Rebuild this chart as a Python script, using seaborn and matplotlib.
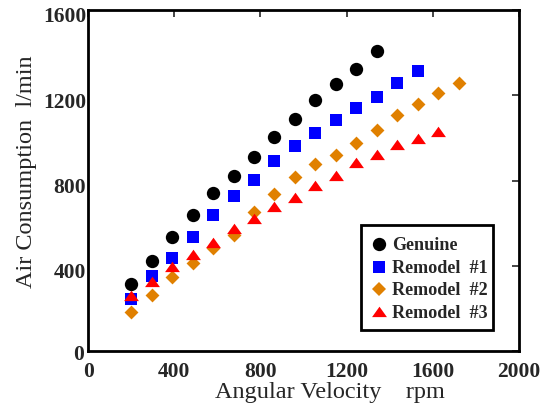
import matplotlib
matplotlib.use("Agg")
import matplotlib.pyplot as plt
import seaborn as sns
import pandas as pd
from matplotlib.lines import Line2D
from matplotlib.patches import Rectangle
from matplotlib.transforms import ScaledTranslation

# Data
rpm = [200, 295, 390, 485, 580, 675, 770, 865, 960, 1055, 1150, 1245, 1340,
       1435, 1530, 1625, 1720]
genuine = [314, 424, 533, 637, 740, 820, 910, 1002, 1087, 1176, 1253, 1324, 1408]
remodel1 = [244, 350, 435, 534, 640, 727, 801, 890, 961, 1021, 1083, 1140, 1190,
            1258, 1314]
remodel2 = [182, 264, 346, 414, 482, 546, 654, 735, 818, 878, 918, 975, 1036,
            1106, 1158, 1211, 1258]
remodel3 = [259, 325, 396, 452, 508, 572, 618, 677, 717, 776, 821, 881, 921,
            967, 995, 1026]
labels = ["Genuine", "Remodel  #1", "Remodel  #2", "Remodel  #3"]
x_ticks = [0, 400, 800, 1200, 1600, 2000]
y_ticks = [0, 400, 800, 1200, 1600]

series = [genuine, remodel1, remodel2, remodel3]
rows = []
for lab, vals in zip(labels, series):
    for x, y in zip(rpm, vals):
        rows.append({"rpm": x, "air": y, "series": lab})
df = pd.DataFrame(rows)

sns.set_style("white")
plt.rcParams["font.family"] = ["Liberation Serif", "DejaVu Serif"]

tri = [(-1, -0.62), (1, -0.62), (0, 0.78)]
styles = {
    "Genuine": dict(marker="o", color="#000000", s=92),
    "Remodel  #1": dict(marker="s", color="#0000FF", s=72),
    "Remodel  #2": dict(marker="D", color="#E08000", s=50),
    "Remodel  #3": dict(marker=tri, color="#FF0000", s=115),
}

fig = plt.figure(figsize=(5.54, 4.15), dpi=100)
ax = fig.add_axes([0.159, 0.154, 0.778, 0.822])

for lab in labels:
    st = styles[lab]
    sns.scatterplot(data=df[df["series"] == lab], x="rpm", y="air", ax=ax,
                    marker=st["marker"], color=st["color"], s=st["s"],
                    linewidth=0, legend=False)

ax.set_xlim(0, 2000)
ax.set_ylim(0, 1600)
ax.set_xticks(x_ticks)
ax.set_yticks(y_ticks)
ax.set_xticklabels([str(t) for t in x_ticks], fontsize=15.5, fontweight="bold")
ax.set_yticklabels([str(t) for t in y_ticks], fontsize=15.5, fontweight="bold")
ax.tick_params(direction="in", length=5, width=1.2, top=True, right=True)
ax.tick_params(axis="x", pad=7.5)
ax.tick_params(axis="y", pad=1.5)
for i, lbl in enumerate(ax.get_yticklabels()):
    dy = -0.01 if i == 0 else -0.05
    dx = -0.02 if i == 0 else 0.0
    lbl.set_transform(lbl.get_transform() +
                      ScaledTranslation(dx, dy, fig.dpi_scale_trans))
for sp in ax.spines.values():
    sp.set_linewidth(2)
    sp.set_color("black")

ax.set_xlabel("Angular Velocity    rpm", fontsize=17.5)
ax.set_ylabel("Air Consumption  l/min", fontsize=17.5)
ax.xaxis.set_label_coords(0.561, -0.09)
ax.yaxis.set_label_coords(-0.118, 0.525)

# legend box
ax.add_patch(Rectangle((0.633, 0.062), 0.306, 0.308, transform=ax.transAxes,
                       facecolor="white", edgecolor="black", linewidth=2,
                       zorder=4))
handles = [Line2D([], [], linestyle="none", marker=styles[l]["marker"],
                  color=styles[l]["color"], markersize=styles[l]["s"] ** 0.5,
                  markeredgewidth=0) for l in labels]
leg = ax.legend(handles, labels, loc="upper left",
                bbox_to_anchor=(0.653, 0.333), borderaxespad=0, borderpad=0,
                frameon=False, handlelength=1.0, handletextpad=0.25,
                labelspacing=0.3,
                prop={"family": "Liberation Serif", "weight": "bold",
                      "size": 13.1})
leg.set_zorder(5)

fig.savefig("out.png", dpi=100)
